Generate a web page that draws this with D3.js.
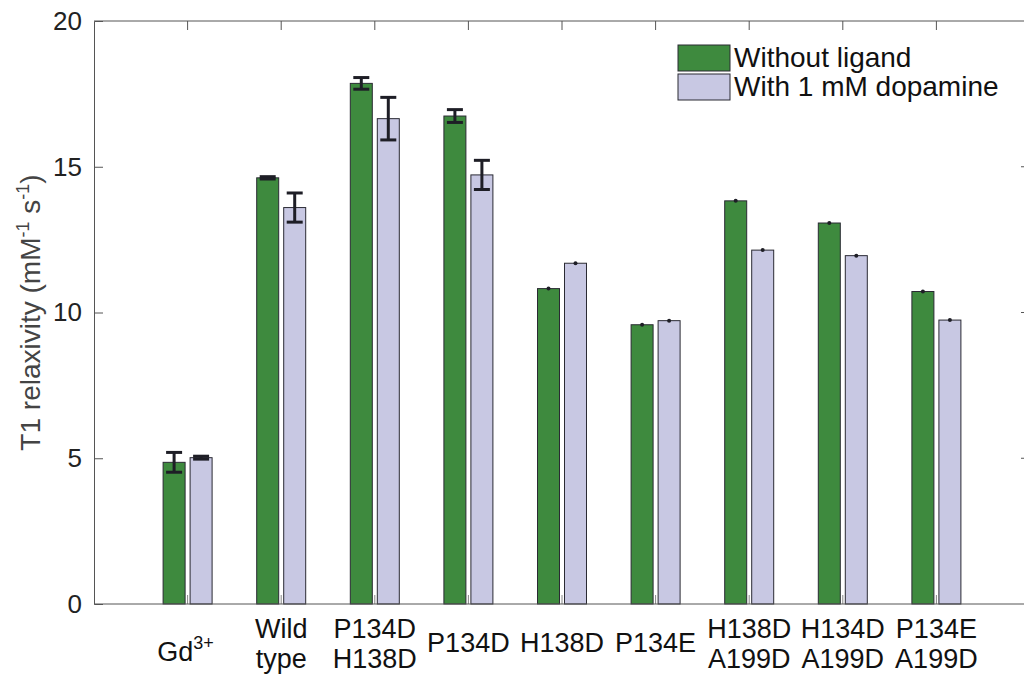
<!DOCTYPE html>
<html>
<head>
<meta charset="utf-8">
<script src="https://d3js.org/d3.v7.min.js"></script>
<style>
  body { margin: 0; background: #fff; }
  svg { font-family: "Liberation Sans", Arial, Helvetica, sans-serif; }
</style>
</head>
<body>
<script>
// data
var categories = ["Gd3+", "Wild type", "P134D H138D", "P134D", "H138D", "P134E",
                  "H138D A199D", "H134D A199D", "P134E A199D"];
var labelLines = [["Gd"], ["Wild", "type"], ["P134D", "H138D"], ["P134D"], ["H138D"], ["P134E"],
                  ["H138D", "A199D"], ["H134D", "A199D"], ["P134E", "A199D"]];
var withoutLigand = [4.86, 14.62, 17.86, 16.74, 10.82, 9.58, 13.83, 13.07, 10.72];
var withoutErr    = [0.34, 0.04, 0.20, 0.22, 0.01, 0.01, 0.01, 0.01, 0.01];
var withDopamine  = [5.02, 13.60, 16.65, 14.72, 11.69, 9.72, 12.14, 11.95, 9.74];
var withErr       = [0.05, 0.50, 0.73, 0.50, 0.01, 0.01, 0.01, 0.01, 0.01];
var yTicks = [0, 5, 10, 15, 20];
var seriesNames = ["Without ligand", "With 1 mM dopamine"];
var seriesColors = ["#3e8a3e", "#c8c8e3"];

var W = 1024, H = 677;
var pLeft = 94, pRight = 1030, pTop = 21, pBottom = 604;

var svg = d3.select("body").append("svg")
    .attr("width", W).attr("height", H);

var x = d3.scaleLinear().domain([0, categories.length + 1]).range([pLeft, pRight]);
var y = d3.scaleLinear().domain([0, 20]).range([pBottom, pTop]);

var off = 13.5, bw = 22;

// frame
svg.append("line").attr("x1", pLeft).attr("x2", pRight).attr("y1", pTop).attr("y2", pTop)
    .attr("stroke", "#555").attr("stroke-width", 1);
svg.append("line").attr("x1", pRight).attr("x2", pRight).attr("y1", pTop).attr("y2", pBottom)
    .attr("stroke", "#555");

// bottom tick marks (inward), sit under the bars
svg.append("g").selectAll("line").data(categories).enter().append("line")
    .attr("x1", function(d, i) { return x(i + 1); })
    .attr("x2", function(d, i) { return x(i + 1); })
    .attr("y1", pBottom).attr("y2", pBottom - 9)
    .attr("stroke", "#888");
// top tick marks
svg.append("g").selectAll("line").data(categories).enter().append("line")
    .attr("x1", function(d, i) { return x(i + 1); })
    .attr("x2", function(d, i) { return x(i + 1); })
    .attr("y1", pTop).attr("y2", pTop + 9)
    .attr("stroke", "#555");
// right ticks
svg.append("g").selectAll("line").data(yTicks.slice(1, 4)).enter().append("line")
    .attr("x1", pRight).attr("x2", pRight - 9)
    .attr("y1", function(d) { return y(d); }).attr("y2", function(d) { return y(d); })
    .attr("stroke", "#555");

// bars
var series = [withoutLigand, withDopamine];
var errs = [withoutErr, withErr];
series.forEach(function(vals, s) {
    var dx = s === 0 ? -off : off;
    svg.append("g").selectAll("rect").data(vals).enter().append("rect")
        .attr("x", function(d, i) { return x(i + 1) + dx - bw / 2; })
        .attr("width", bw)
        .attr("y", function(d) { return y(d); })
        .attr("height", function(d) { return pBottom - y(d); })
        .attr("fill", seriesColors[s])
        .attr("stroke", "#2a2a33").attr("stroke-width", 1);

    var eg = svg.append("g").attr("stroke", "#1e1e26").attr("stroke-width", 3);
    vals.forEach(function(d, i) {
        var cx = x(i + 1) + dx, e = errs[s][i];
        if (e < 0.02) {
            // tiny error: shows only as a dot on the bar top
            eg.append("circle").attr("cx", cx).attr("cy", y(d)).attr("r", 2)
                .attr("fill", "#1e1e26").attr("stroke", "none");
            return;
        }
        eg.append("line").attr("x1", cx).attr("x2", cx)
            .attr("y1", y(d + e)).attr("y2", y(d - e));
        eg.append("line").attr("x1", cx - 8).attr("x2", cx + 8)
            .attr("y1", y(d + e)).attr("y2", y(d + e));
        eg.append("line").attr("x1", cx - 8).attr("x2", cx + 8)
            .attr("y1", y(d - e)).attr("y2", y(d - e));
    });
});

// left axis
var yAxis = d3.axisLeft(y).tickValues(yTicks).tickSize(-9).tickPadding(12);
var gy = svg.append("g").attr("transform", "translate(" + pLeft + ",0)").call(yAxis);
gy.select(".domain").attr("stroke", "#555");
gy.selectAll(".tick line").attr("stroke", "#555");
gy.selectAll(".tick").filter(function(d) { return d === 0 || d === 20; }).select("line").remove();
gy.selectAll("text").attr("font-size", 26).attr("fill", "#222")
    .attr("font-family", "Liberation Sans, Arial, sans-serif");

// bottom axis line
svg.append("line").attr("x1", pLeft).attr("x2", pRight).attr("y1", pBottom).attr("y2", pBottom)
    .attr("stroke", "#555");

// category labels
var lab = svg.append("g").attr("font-size", 27).attr("fill", "#111").attr("text-anchor", "middle");
labelLines.forEach(function(lines, i) {
    var cx = x(i + 1);
    if (i === 0) {
        var t = lab.append("text").attr("x", cx - 2).attr("y", 661);
        t.append("tspan").text("Gd");
        t.append("tspan").attr("font-size", 18).attr("dy", -12).text("3+");
    } else if (lines.length === 1) {
        lab.append("text").attr("x", cx).attr("y", 652).text(lines[0]);
    } else {
        lab.append("text").attr("x", cx).attr("y", 638).text(lines[0]);
        lab.append("text").attr("x", cx).attr("y", 668).text(lines[1]);
    }
});

// y axis title
var yt = svg.append("text")
    .attr("transform", "translate(40," + ((pTop + pBottom) / 2) + ") rotate(-90)")
    .attr("text-anchor", "middle").attr("font-size", 28).attr("fill", "#444");
yt.append("tspan").text("T1 relaxivity (mM");
yt.append("tspan").attr("font-size", 18).attr("dy", -11).text("-1");
yt.append("tspan").attr("dy", 11).text(" s");
yt.append("tspan").attr("font-size", 18).attr("dy", -11).text("-1");
yt.append("tspan").attr("dy", 11).text(")");

// legend
var leg = svg.append("g").attr("transform", "translate(678,45)");
seriesNames.forEach(function(name, i) {
    var g = leg.append("g").attr("transform", "translate(0," + (i * 29) + ")");
    g.append("rect").attr("width", 52).attr("height", 26)
        .attr("fill", seriesColors[i]).attr("stroke", "#2a2a33");
    g.append("text").attr("x", 56).attr("y", 22).attr("font-size", 28)
        .attr("fill", "#111").text(name);
});
</script>
</body>
</html>
